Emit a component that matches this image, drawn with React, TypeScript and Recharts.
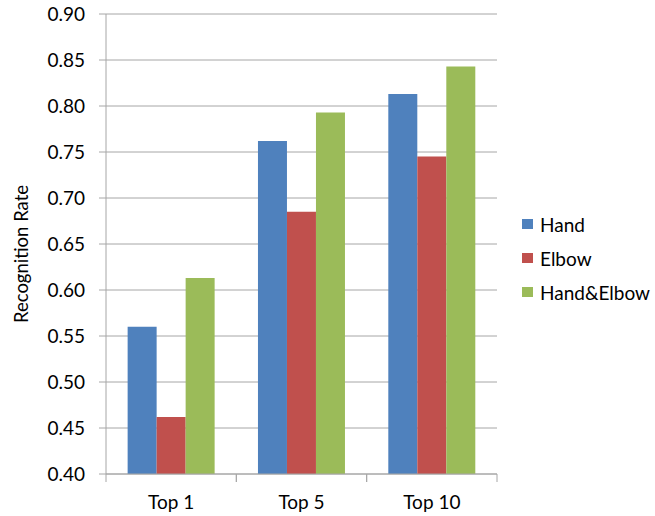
import { BarChart, Bar, XAxis, YAxis, CartesianGrid } from 'recharts';

const categories = ['Top 1', 'Top 5', 'Top 10'];
const hand = [0.56, 0.762, 0.813];
const elbow = [0.462, 0.685, 0.745];
const handElbow = [0.613, 0.793, 0.843];
const yTicks = [0.4, 0.45, 0.5, 0.55, 0.6, 0.65, 0.7, 0.75, 0.8, 0.85, 0.9];

const series = [
  { key: 'hand', name: 'Hand', color: '#4F81BD' },
  { key: 'elbow', name: 'Elbow', color: '#C0504D' },
  { key: 'handElbow', name: 'Hand&Elbow', color: '#9BBB59' },
];

const data = categories.map((name, i) => ({
  name,
  hand: hand[i],
  elbow: elbow[i],
  handElbow: handElbow[i],
}));

const FONT = 'Lato, "Open Sans", sans-serif';
const GRID = '#A6A6A6';
const FS = 19;

// category label in the middle, small tick marks on the band edges (Excel style)
const CategoryTick = ({ x, y, payload }: any) => {
  const half = payload && payload.offset ? payload.offset : 65;
  return (
    <g>
      <line x1={x - half} y1={y} x2={x - half} y2={y + 8} stroke={GRID} />
      <line x1={x + half} y1={y} x2={x + half} y2={y + 8} stroke={GRID} />
      <text x={x} y={y + 35} textAnchor="middle" fontSize={FS} fontFamily={FONT} fill="#000">
        {payload.value}
      </text>
    </g>
  );
};

const YTitle = () => (
  <text
    x={28}
    y={254}
    transform="rotate(-90 28 254)"
    textAnchor="middle"
    fontSize={18.5}
    fontFamily={FONT}
    fill="#000"
  >
    Recognition Rate
  </text>
);

export default function App() {
  return (
    <div style={{ position: 'absolute', left: 0, top: 0, width: 655, height: 516, background: '#fff' }}>
      <BarChart
        width={655}
        height={516}
        data={data}
        margin={{ top: 14, right: 158, bottom: 0, left: 0 }}
        barCategoryGap="16.6%"
        barGap={0}
      >
        <CartesianGrid vertical={false} stroke={GRID} />
        <XAxis
          dataKey="name"
          height={42}
          axisLine={{ stroke: GRID }}
          tickLine={false}
          tickSize={0}
          tickMargin={0}
          tick={<CategoryTick />}
          interval={0}
        />
        <YAxis
          width={106}
          domain={[0.4, 0.9]}
          ticks={yTicks}
          interval={0}
          tickFormatter={(v: number) => v.toFixed(2)}
          axisLine={{ stroke: GRID }}
          tickLine={{ stroke: GRID }}
          tickSize={7}
          tickMargin={14}
          tick={{ fontSize: FS, fontFamily: FONT, fill: '#000' }}
          label={{ content: <YTitle /> }}
        />
        {series.map((s) => (
          <Bar key={s.key} dataKey={s.key} name={s.name} fill={s.color} isAnimationActive={false} />
        ))}
      </BarChart>
      <div style={{ position: 'absolute', left: 522, top: 207, fontFamily: FONT, fontSize: FS, color: '#000' }}>
        {series.map((s) => (
          <div key={s.key} style={{ display: 'flex', alignItems: 'center', height: 34 }}>
            <span style={{ width: 11, height: 10, background: s.color, marginRight: 7, display: 'inline-block' }} />
            <span>{s.name}</span>
          </div>
        ))}
      </div>
    </div>
  );
}
